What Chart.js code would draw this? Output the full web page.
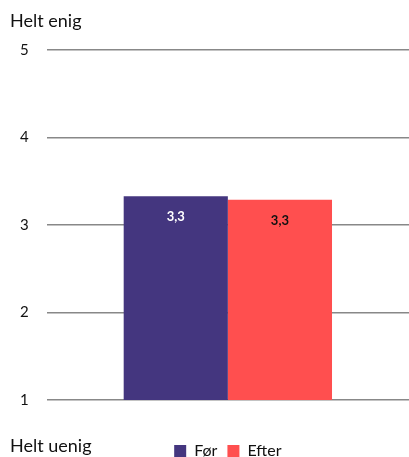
<!DOCTYPE html>
<html>
<head>
<meta charset="utf-8">
<script src="https://cdn.jsdelivr.net/npm/chart.js@4"></script>
<style>
html,body{margin:0;padding:0;background:#fff;}
#wrap{position:relative;width:409px;height:457px;}
.lab{position:absolute;left:10px;font-family:Lato,"Open Sans",sans-serif;font-size:18px;color:#111;}
</style>
</head>
<body>
<div id="wrap">
<canvas id="c" width="409" height="457"></canvas>
<div class="lab" style="top:9px">Helt enig</div>
<div class="lab" style="top:434px">Helt uenig</div>
</div>
<script>
const categories = [""];
const seriesNames = ["Før", "Efter"];
const valuesFor = [3.33];
const valuesEfter = [3.29];
const dataLabels = ["3,3", "3,3"];
const yTicks = [1, 2, 3, 4, 5];

const labelPlugin = {
  id: 'barLabels',
  afterDatasetsDraw(chart) {
    const ctx = chart.ctx;
    const colors = ['#ffffff', '#111111'];
    chart.data.datasets.forEach((ds, i) => {
      const meta = chart.getDatasetMeta(i);
      meta.data.forEach((bar) => {
        ctx.save();
        ctx.font = 'bold 13px Lato, "Open Sans", sans-serif';
        ctx.fillStyle = colors[i];
        ctx.textAlign = 'center';
        ctx.textBaseline = 'middle';
        ctx.fillText(dataLabels[i], bar.x, bar.y + 21);
        ctx.restore();
      });
    });
  }
};

new Chart(document.getElementById('c'), {
  type: 'bar',
  data: {
    labels: categories,
    datasets: [
      { label: seriesNames[0], data: valuesFor, backgroundColor: '#44367f' },
      { label: seriesNames[1], data: valuesEfter, backgroundColor: '#ff4f4f' }
    ]
  },
  options: {
    responsive: false,
    animation: false,
    layout: { padding: { top: 50, left: 2, right: 0, bottom: -12 } },
    datasets: { bar: { categoryPercentage: 0.575, barPercentage: 1 } },
    plugins: {
      legend: {
        position: 'bottom',
        fullSize: false,
        labels: {
          boxWidth: 12, boxHeight: 12, padding: 10,
          font: { family: 'Lato, "Open Sans", sans-serif', size: 16 },
          color: '#111'
        }
      },
      tooltip: { enabled: false }
    },
    scales: {
      x: {
        display: true,
        grid: { display: false },
        border: { display: false },
        ticks: { display: false },
        afterFit(axis) { axis.height = 33; }
      },
      y: {
        min: 1, max: 5,
        afterBuildTicks(axis) { axis.ticks = yTicks.map(v => ({ value: v })); },
        border: { display: false },
        grid: { color: '#888', lineWidth: 1.5, drawTicks: false },
        ticks: {
          padding: 18,
          color: '#111',
          font: { family: 'Lato, "Open Sans", sans-serif', size: 15 }
        }
      }
    }
  },
  plugins: [labelPlugin]
});
</script>
</body>
</html>
